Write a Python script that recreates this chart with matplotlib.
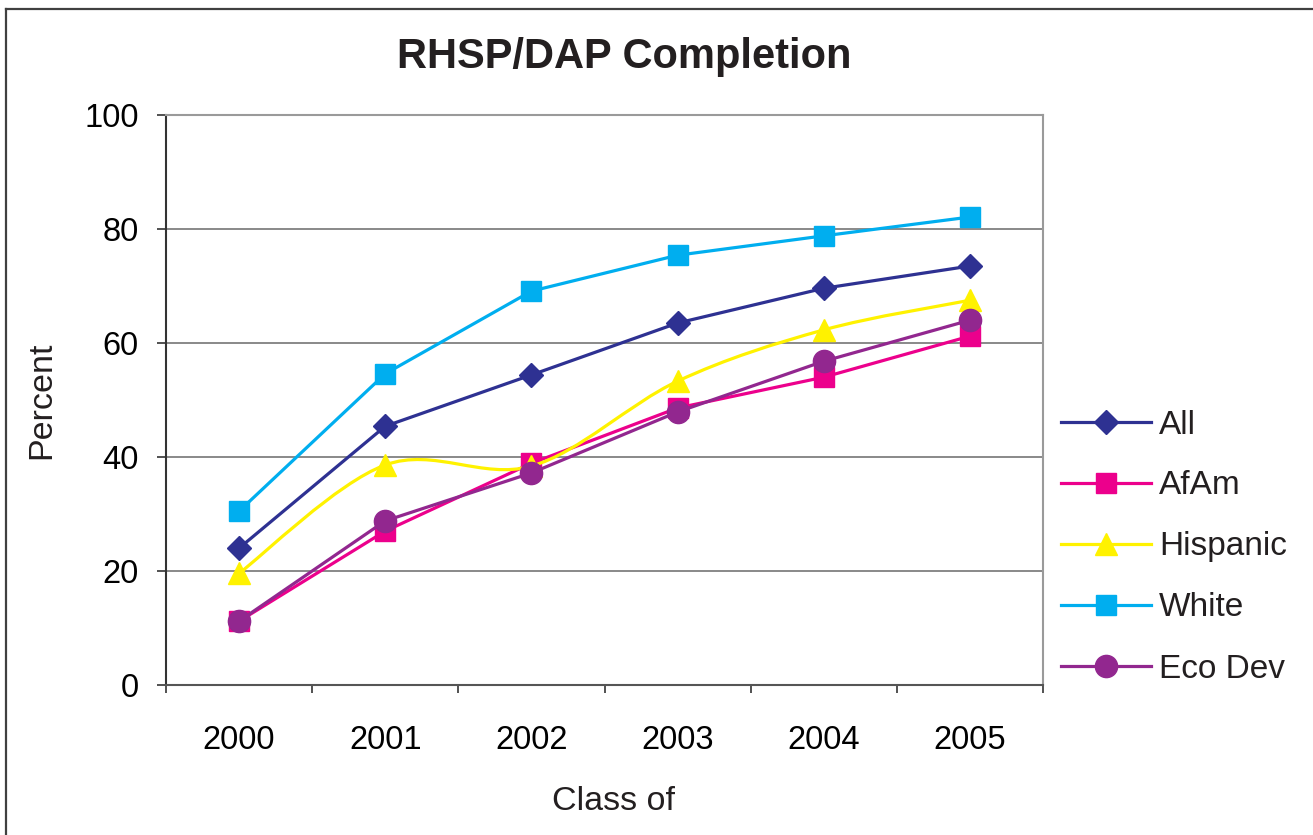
import matplotlib
matplotlib.use("Agg")
import matplotlib.pyplot as plt
from matplotlib.path import Path
from matplotlib.patches import PathPatch
from matplotlib.lines import Line2D

plt.rcParams['font.family'] = ['Liberation Sans', 'DejaVu Sans']

# Dados
anos = ['2000', '2001', '2002', '2003', '2004', '2005']
todos = [24.0, 45.4, 54.4, 63.5, 69.6, 73.5]
afam = [11.2, 27.0, 38.9, 48.6, 54.0, 61.2]
hispanic = [19.6, 38.6, 38.4, 53.3, 62.3, 67.5]
white = [30.5, 54.6, 69.1, 75.4, 78.8, 82.1]
eco_dev = [11.2, 28.8, 37.2, 47.9, 56.8, 64.0]

cor_all = '#2E3192'
cor_afam = '#EC008C'
cor_hisp = '#FFF200'
cor_white = '#00AEEF'
cor_eco = '#92278F'

W, H = 1313, 835
fig = plt.figure(figsize=(W / 100, H / 100), dpi=100)
ax = fig.add_axes([166 / W, 1 - 685 / H, (1043 - 166) / W, (685 - 115) / H])

x = list(range(len(anos)))
lw = 2.3
estilos = {
    'All': dict(color=cor_all, marker='D', ms=12),
    'AfAm': dict(color=cor_afam, marker='s', ms=14.5),
    'Hispanic': dict(color=cor_hisp, marker='^', ms=16),
    'White': dict(color=cor_white, marker='s', ms=14.5),
    'Eco Dev': dict(color=cor_eco, marker='o', ms=16),
}

ax.plot(x, todos, lw=lw, **estilos['All'])
ax.plot(x, afam, lw=lw, **estilos['AfAm'])

# linha suavizada (estilo Excel) para Hispanic
pts = list(zip(x, hispanic))
verts = [pts[0]]
codes = [Path.MOVETO]
for i in range(len(pts) - 1):
    p0 = pts[max(i - 1, 0)]
    p1 = pts[i]
    p2 = pts[i + 1]
    p3 = pts[min(i + 2, len(pts) - 1)]
    c1 = (p1[0] + (p2[0] - p0[0]) / 6, p1[1] + (p2[1] - p0[1]) / 6)
    c2 = (p2[0] - (p3[0] - p1[0]) / 6, p2[1] - (p3[1] - p1[1]) / 6)
    verts += [c1, c2, p2]
    codes += [Path.CURVE4] * 3
ax.add_patch(PathPatch(Path(verts, codes), fill=False, edgecolor=cor_hisp, lw=lw, zorder=2))
ax.plot(x, hispanic, ls='none', **estilos['Hispanic'])

ax.plot(x, white, lw=lw, **estilos['White'])
ax.plot(x, eco_dev, lw=lw, **estilos['Eco Dev'])

ax.set_xlim(-0.5, len(anos) - 0.5)
ax.set_ylim(0, 100)
ax.set_yticks(range(0, 101, 20))
ax.set_xticks([i - 0.5 for i in range(len(anos) + 1)])
ax.set_xticklabels([])
ax.set_xticks(x, minor=True)
ax.set_xticklabels(anos, minor=True)
ax.tick_params(axis='x', which='minor', length=0, pad=29, labelsize=23.5)
ax.tick_params(axis='x', which='major', length=6, width=1.2, direction='out', color='#333333')
ax.tick_params(axis='y', length=6.5, width=1.2, direction='out', pad=13, labelsize=23.5, color='#333333')
ax.yaxis.grid(True, color='#808080', lw=1.3)
ax.set_axisbelow(True)

ax.spines['left'].set_color('#333333')
ax.spines['left'].set_linewidth(1.5)
ax.spines['bottom'].set_color('#555555')
ax.spines['bottom'].set_linewidth(1.5)
for s in ['top', 'right']:
    ax.spines[s].set_color('#9a9a9a')
    ax.spines[s].set_linewidth(1.5)

fig.text(624 / W, 1 - 57 / H, 'RHSP/DAP Completion', ha='center', va='center',
         fontsize=30, fontweight='bold', color='#231F20')
fig.text(613 / W, 1 - 801 / H, 'Class of', ha='center', va='center', fontsize=24.5, color='#231F20')
fig.text(42 / W, 1 - 400 / H, 'Percent', ha='center', va='center', rotation=90,
         fontsize=24.5, color='#231F20')

# legenda
labels = ['All', 'AfAm', 'Hispanic', 'White', 'Eco Dev']
handles = [Line2D([], [], lw=lw, **estilos[n]) for n in labels]
fig.legend(handles, labels, loc='center left', bbox_to_anchor=(1061 / W, 1 - 547 / H),
           frameon=False, fontsize=24, handlelength=2.7, handletextpad=0.25,
           labelspacing=0.9, borderpad=0, borderaxespad=0, labelcolor='#231F20')

# borda do gráfico
fig.add_artist(Line2D([6 / W, 6 / W], [0, 1 - 9 / H], color='#404040', lw=1.6))
fig.add_artist(Line2D([6 / W, 1], [1 - 9 / H, 1 - 9 / H], color='#404040', lw=1.6))

fig.savefig('out.png', dpi=100)
